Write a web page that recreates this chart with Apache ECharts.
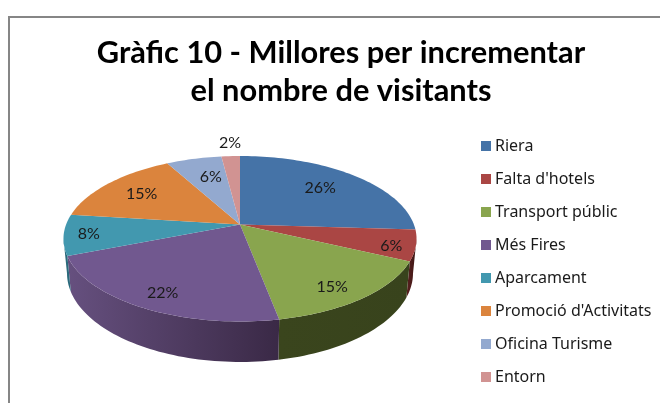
<!DOCTYPE html>
<html><head><meta charset="utf-8">
<style>html,body{margin:0;padding:0;background:#fff}#c{width:660px;height:403px}</style>
<script src="https://cdn.jsdelivr.net/npm/echarts@6/dist/echarts.min.js"></script>
</head><body><div id="c"></div>
<script>
const categories = ["Riera","Falta d'hotels","Transport públic","Més Fires","Aparcament","Promoció d'Activitats","Oficina Turisme","Entorn"];
const values = [26,6,15,22,8,15,6,2];
const titleLines = ["Gràfic 10 - Millores per incrementar","el nombre de visitants"];

const topColors = ['#4573a7','#aa4644','#89a54e','#71588f','#4298af','#db843d','#93a9cf','#d19392'];
const wallLeft  = ['#2a4565','#5a2120','#3a451d','#66507f','#2b6a7c','#8a5222','#5a6a85','#7d5857'];
const wallRight = ['#2a4565','#3c1514','#38431c','#3a2946','#2b6a7c','#8a5222','#5a6a85','#7d5857'];
const labelRadius = [.70,.87,.83,.84,.86,.73,.68,1.24];
const labelNudgeDeg = [-1.2,2.6,3.5,-1.3,-.6,-.2,2,.4];

// Perspective projection of the pie's disc
const CX=240, CY=224.5, A=173.9, B=80.3, K=0.172, DEPTH=33.5, BOTTOM_SCALE=0.98;
function project(deg,r,lower){
  const t=deg*Math.PI/180, x=r*Math.sin(t), y=-r*Math.cos(t), d=1-K*y;
  const s=lower?BOTTOM_SCALE:1;
  return [CX+s*A*x/d, CY+B*y/d+(lower?DEPTH/d:0)];
}
const total=values.reduce((a,b)=>a+b,0);
function startDeg(i){let s=0;for(let j=0;j<i;j++)s+=values[j];return s/total*360;}
function arc(a0,a1,lower){
  const n=Math.max(2,Math.ceil(Math.abs(a1-a0)/1.5)),pts=[];
  for(let i=0;i<=n;i++)pts.push(project(a0+(a1-a0)*i/n,1,lower));
  return pts;
}
const WALL_FROM=100, WALL_TO=260;

function makeRender(i){
  return function(params,api){
    const v=api.value(0), a0=startDeg(i), a1=a0+v/total*360;
    const children=[];
    const w0=Math.max(a0,WALL_FROM), w1=Math.min(a1,WALL_TO);
    if(w1>w0){
      const pts=arc(w0,w1,false).concat(arc(w0,w1,true).reverse());
      children.push({type:'polygon',shape:{points:pts},style:{
        fill:new echarts.graphic.LinearGradient(0,0,1,0,[{offset:0,color:wallLeft[i]},{offset:1,color:wallRight[i]}])},z2:1});
    }
    const top=[project(0,0,false)].concat(arc(a0,a1,false));
    children.push({type:'polygon',shape:{points:top},style:{fill:api.visual('color')},z2:2});
    const mid=(a0+a1)/2+labelNudgeDeg[i], p=project(mid,labelRadius[i],false);
    children.push({type:'text',x:p[0],y:p[1],z2:5,style:{text:v+'%',fill:'#1a1a1a',
      font:'16px Lato',align:'center',verticalAlign:'middle'}});
    return {type:'group',children};
  };
}

const chart=echarts.init(document.getElementById('c'),null,{renderer:'canvas'});
chart.setOption({
  animation:false,
  backgroundColor:'#fff',
  color:topColors,
  title:{text:titleLines.join('\n'),left:336,top:29,textAlign:'center',
    textStyle:{fontFamily:'Lato',fontWeight:'bold',fontSize:30.8,lineHeight:38,color:'#000'}},
  legend:{orient:'vertical',left:476,top:133,itemWidth:10,itemHeight:10,itemGap:17,icon:'rect',
    data:categories,selectedMode:false,
    textStyle:{fontFamily:'Noto Sans',fontSize:16,color:'#1a1a1a',padding:[0,0,0,-1],lineHeight:15}},
  graphic:[
    {type:'line',silent:true,shape:{x1:9,y1:17,x2:660,y2:17},style:{stroke:'#868686',lineWidth:2}},
    {type:'line',silent:true,shape:{x1:9,y1:16,x2:9,y2:403},style:{stroke:'#868686',lineWidth:2}}
  ],
  series:categories.map((name,i)=>({type:'custom',name,coordinateSystem:'none',silent:true,
    renderItem:makeRender(i),data:[[values[i]]]}))
});
</script></body></html>
